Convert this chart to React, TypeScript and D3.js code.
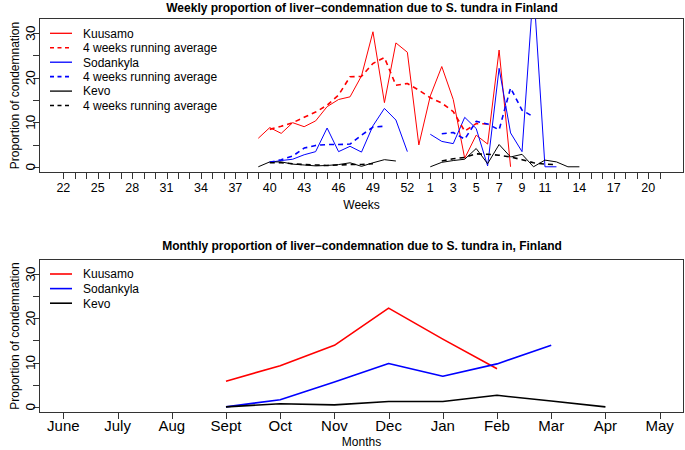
import React from "react";
import * as d3 from "d3";

// ---------- Data ----------
const allWeeks: number[] = [22, 23, 24, 25, 26, 27, 28, 29, 30, 31, 32, 33, 34, 35, 36, 37, 38, 39, 40, 41, 42, 43, 44, 45, 46, 47, 48, 49, 50, 51, 52, 53, 1, 2, 3, 4, 5, 6, 7, 8, 9, 10, 11, 12, 13, 14, 15, 16, 17, 18, 19, 20, 21];
const weekTickLabels: number[] = [22, 25, 28, 31, 34, 37, 40, 43, 46, 49, 52, 1, 3, 5, 7, 9, 11, 14, 17, 20];

// season weeks the series are reported for
const seasonWeeks: number[] = [39, 40, 41, 42, 43, 44, 45, 46, 47, 48, 49, 50, 51, 52, 53, 1, 2, 3, 4, 5, 6, 7, 8, 9, 10, 11, 12, 13, 14];

type V = number | null;
const kuusamoWeekly: V[] = [6.4, 8.8, 7.5, 9.9, 9.0, 10.3, 13.5, 15.1, 15.7, 20.4, 30.3, 14.4, 27.8, 25.7, 4.9, 15.9, 22.5, 15.1, 1.9, 7.1, 5.1, 26.2, 0, null, null, null, null, null, null];
const kuusamoAvg: V[] = [null, 8.4, 9.1, 9.9, 11.1, 12.3, 13.8, 16.1, 20.2, 20.3, 23.2, 24.5, 18.3, 18.7, 17.2, 15.5, 14.3, 12.4, 8.0, 9.7, 9.6, null, null, null, null, null, null, null, null];
const sodankylaWeekly: V[] = [null, 1.0, 1.4, 1.7, 2.7, 3.4, 8.7, 3.4, 4.6, 3.3, 9.2, 13.1, 10.5, 3.4, null, 7.3, 5.7, 5.2, 11.1, 8.6, 0.2, 22.1, 7.6, 3.4, 40.4, 0, 0, null, null];
const sodankylaAvg: V[] = [null, 1.0, 1.6, 2.4, 4.2, 4.8, 5.0, 5.0, 5.1, 7.1, 8.9, 9.1, null, null, null, null, 7.4, 7.7, 6.2, 10.2, 9.6, 8.3, 17.7, 12.7, 11.2, null, null, null, null];
const kevoWeekly: V[] = [0, 1.1, 1.1, 0.6, 0.4, 0.2, 0.3, 0.5, 0.9, 0.1, 0.9, 1.6, 1.3, null, null, 0, 1.0, 1.4, 1.7, 4.1, 0.7, 5.0, 2.2, 2.8, 0, 1.5, 1.1, 0, 0];
const kevoAvg: V[] = [null, 0.9, 0.9, 0.7, 0.5, 0.4, 0.3, 0.4, 0.5, 0.5, 0.7, null, null, null, null, null, 1.3, 1.8, 2.1, 2.9, 2.8, 2.6, 2.2, 1.6, 0.9, 0.6, 0.5, null, null];

const months: string[] = ["June", "July", "Aug", "Sept", "Oct", "Nov", "Dec", "Jan", "Feb", "Mar", "Apr", "May"];
const kuusamoMonthly: V[] = [null, null, null, 5.8, 9.3, 13.9, 22.3, 15.3, 8.6, null, null, null];
const sodankylaMonthly: V[] = [null, null, null, 0, 1.6, 5.6, 9.8, 6.9, 9.7, 13.9, null, null];
const kevoMonthly: V[] = [null, null, null, 0, 0.7, 0.45, 1.2, 1.2, 2.6, 1.3, 0, null];

const yTicks: number[] = [0, 5, 10, 15, 20, 25, 30];
const yLabels: number[] = [0, 10, 20, 30];

const weeklyLegend = [
  { label: "Kuusamo", color: "#ff0000", dashed: false },
  { label: "4 weeks running average", color: "#ff0000", dashed: true },
  { label: "Sodankyla", color: "#0000ff", dashed: false },
  { label: "4 weeks running average", color: "#0000ff", dashed: true },
  { label: "Kevo", color: "#000000", dashed: false },
  { label: "4 weeks running average", color: "#000000", dashed: true },
];
const monthlyLegend = [
  { label: "Kuusamo", color: "#ff0000" },
  { label: "Sodankyla", color: "#0000ff" },
  { label: "Kevo", color: "#000000" },
];

const FONT = "'Liberation Sans', Arial, Helvetica, sans-serif";
const DASH = "5,4";

// ---------- Layout ----------
const L = 39.5, R = 683.5;
const top1 = 18.5, bot1 = 172.5;
const top2 = 259.5, bot2 = 412.5;
const yMax = 32;
const yDomain: [number, number] = [-0.04 * yMax, yMax * 1.04];

export default function App() {
  const nW = allWeeks.length - 1;
  const x1 = d3.scaleLinear().domain([-0.04 * nW, nW * 1.04]).range([L, R]);
  const y1 = d3.scaleLinear().domain(yDomain).range([bot1, top1]);
  const nM = months.length - 1;
  const x2 = d3.scaleLinear().domain([-0.04 * nM, nM * 1.04]).range([L, R]);
  const y2 = d3.scaleLinear().domain(yDomain).range([bot2, top2]);

  const weekIndex = (w: number) => {
    // weeks 22..53 come first, then 1..21
    return allWeeks.indexOf(w);
  };

  const weekLine = d3
    .line<[number, V]>()
    .defined((d) => d[1] !== null)
    .x((d) => x1(weekIndex(d[0])))
    .y((d) => y1(d[1] as number));

  const monthLine = d3
    .line<[number, V]>()
    .defined((d) => d[1] !== null)
    .x((d) => x2(d[0]))
    .y((d) => y2(d[1] as number));

  const wk = (vals: V[]) => weekLine(seasonWeeks.map((w, i) => [w, vals[i]] as [number, V])) || "";
  const mo = (vals: V[]) => monthLine(vals.map((v, i) => [i, v] as [number, V])) || "";

  const weeklySeries = [
    { vals: kuusamoWeekly, color: "#ff0000", dashed: false },
    { vals: sodankylaWeekly, color: "#0000ff", dashed: false },
    { vals: kevoWeekly, color: "#000000", dashed: false },
    { vals: kuusamoAvg, color: "#ff0000", dashed: true },
    { vals: sodankylaAvg, color: "#0000ff", dashed: true },
    { vals: kevoAvg, color: "#000000", dashed: true },
  ];
  const monthlySeries = [
    { vals: kuusamoMonthly, color: "#ff0000" },
    { vals: sodankylaMonthly, color: "#0000ff" },
    { vals: kevoMonthly, color: "#000000" },
  ];

  const yAxis = (y: d3.ScaleLinear<number, number>) => (
    <g>
      <line x1={L} x2={L} y1={y(0)} y2={y(30)} stroke="#333" />
      {yTicks.map((t) => (
        <line key={t} x1={L - 6.5} x2={L} y1={Math.round(y(t)) + 0.5} y2={Math.round(y(t)) + 0.5} stroke="#333" />
      ))}
      {yLabels.map((t) => (
        <text
          key={t}
          transform={`translate(${35},${y(t)}) rotate(-90)`}
          textAnchor="middle"
          fontSize={13.5}
          fontFamily={FONT}
        >
          {t}
        </text>
      ))}
    </g>
  );

  return (
    <svg width={685} height={450} style={{ position: "absolute", left: 0, top: 0, background: "#fff" }}>
      <defs>
        <clipPath id="clip1">
          <rect x={L} y={top1} width={R - L} height={bot1 - top1} />
        </clipPath>
        <clipPath id="clip2">
          <rect x={L} y={top2} width={R - L} height={bot2 - top2} />
        </clipPath>
      </defs>

      {/* ---------- Weekly chart ---------- */}
      <text x={362} y={12} textAnchor="middle" fontSize={12} fontWeight="bold" fontFamily={FONT}>
        Weekly proportion of liver−condemnation due to S. tundra in Finland
      </text>
      <rect x={L} y={top1} width={R - L} height={bot1 - top1} fill="none" stroke="#333" />
      {yAxis(y1)}
      <text transform={`translate(19,${(top1 + bot1) / 2}) rotate(-90)`} textAnchor="middle" fontSize={12} fontFamily={FONT}>
        Proportion of condemnation
      </text>
      {allWeeks.map((w, i) => (
        <line key={i} x1={Math.round(x1(i)) + 0.5} x2={Math.round(x1(i)) + 0.5} y1={bot1} y2={bot1 + 6.5} stroke="#333" />
      ))}
      {weekTickLabels.map((w) => (
        <text key={w} x={x1(weekIndex(w))} y={191.5} textAnchor="middle" fontSize={12.5} fontFamily={FONT}>
          {w}
        </text>
      ))}
      <text x={(L + R) / 2} y={209} textAnchor="middle" fontSize={12} fontFamily={FONT}>
        Weeks
      </text>
      <g clipPath="url(#clip1)">
        {weeklySeries.map((s, i) => (
          <path
            key={i}
            d={wk(s.vals)}
            fill="none"
            stroke={s.color}
            strokeWidth={s.dashed ? 1.6 : 1}
            strokeDasharray={s.dashed ? DASH : undefined}
            strokeLinejoin="round"
          />
        ))}
      </g>
      {weeklyLegend.map((e, i) => {
        const yy = 33.3 + i * 14.45;
        return (
          <g key={i}>
            <line x1={50} x2={72} y1={yy} y2={yy} stroke={e.color} strokeWidth={e.dashed ? 1.6 : 1.3} strokeDasharray={e.dashed ? "4,3.5" : undefined} />
            <text x={83} y={yy + 4.3} fontSize={12} fontFamily={FONT}>
              {e.label}
            </text>
          </g>
        );
      })}

      {/* ---------- Monthly chart ---------- */}
      <text x={362} y={249.5} textAnchor="middle" fontSize={12} fontWeight="bold" fontFamily={FONT}>
        Monthly proportion of liver−condemnation due to S. tundra in, Finland
      </text>
      <rect x={L} y={top2} width={R - L} height={bot2 - top2} fill="none" stroke="#333" />
      {yAxis(y2)}
      <text transform={`translate(19,${(top2 + bot2) / 2}) rotate(-90)`} textAnchor="middle" fontSize={12} fontFamily={FONT}>
        Proportion of condemnation
      </text>
      {months.map((m, i) => (
        <g key={m}>
          <line x1={Math.round(x2(i)) + 0.5} x2={Math.round(x2(i)) + 0.5} y1={bot2} y2={bot2 + 6.5} stroke="#333" />
          <text x={x2(i)} y={431} textAnchor="middle" fontSize={15} fontFamily={FONT}>
            {m}
          </text>
        </g>
      ))}
      <text x={(L + R) / 2} y={446} textAnchor="middle" fontSize={12} fontFamily={FONT}>
        Months
      </text>
      <g clipPath="url(#clip2)">
        {monthlySeries.map((s, i) => (
          <path key={i} d={mo(s.vals)} fill="none" stroke={s.color} strokeWidth={1.6} strokeLinejoin="round" />
        ))}
      </g>
      {monthlyLegend.map((e, i) => {
        const yy = 274 + i * 14.6;
        return (
          <g key={i}>
            <line x1={50} x2={72} y1={yy} y2={yy} stroke={e.color} strokeWidth={1.6} />
            <text x={83} y={yy + 4.3} fontSize={12} fontFamily={FONT}>
              {e.label}
            </text>
          </g>
        );
      })}
    </svg>
  );
}
